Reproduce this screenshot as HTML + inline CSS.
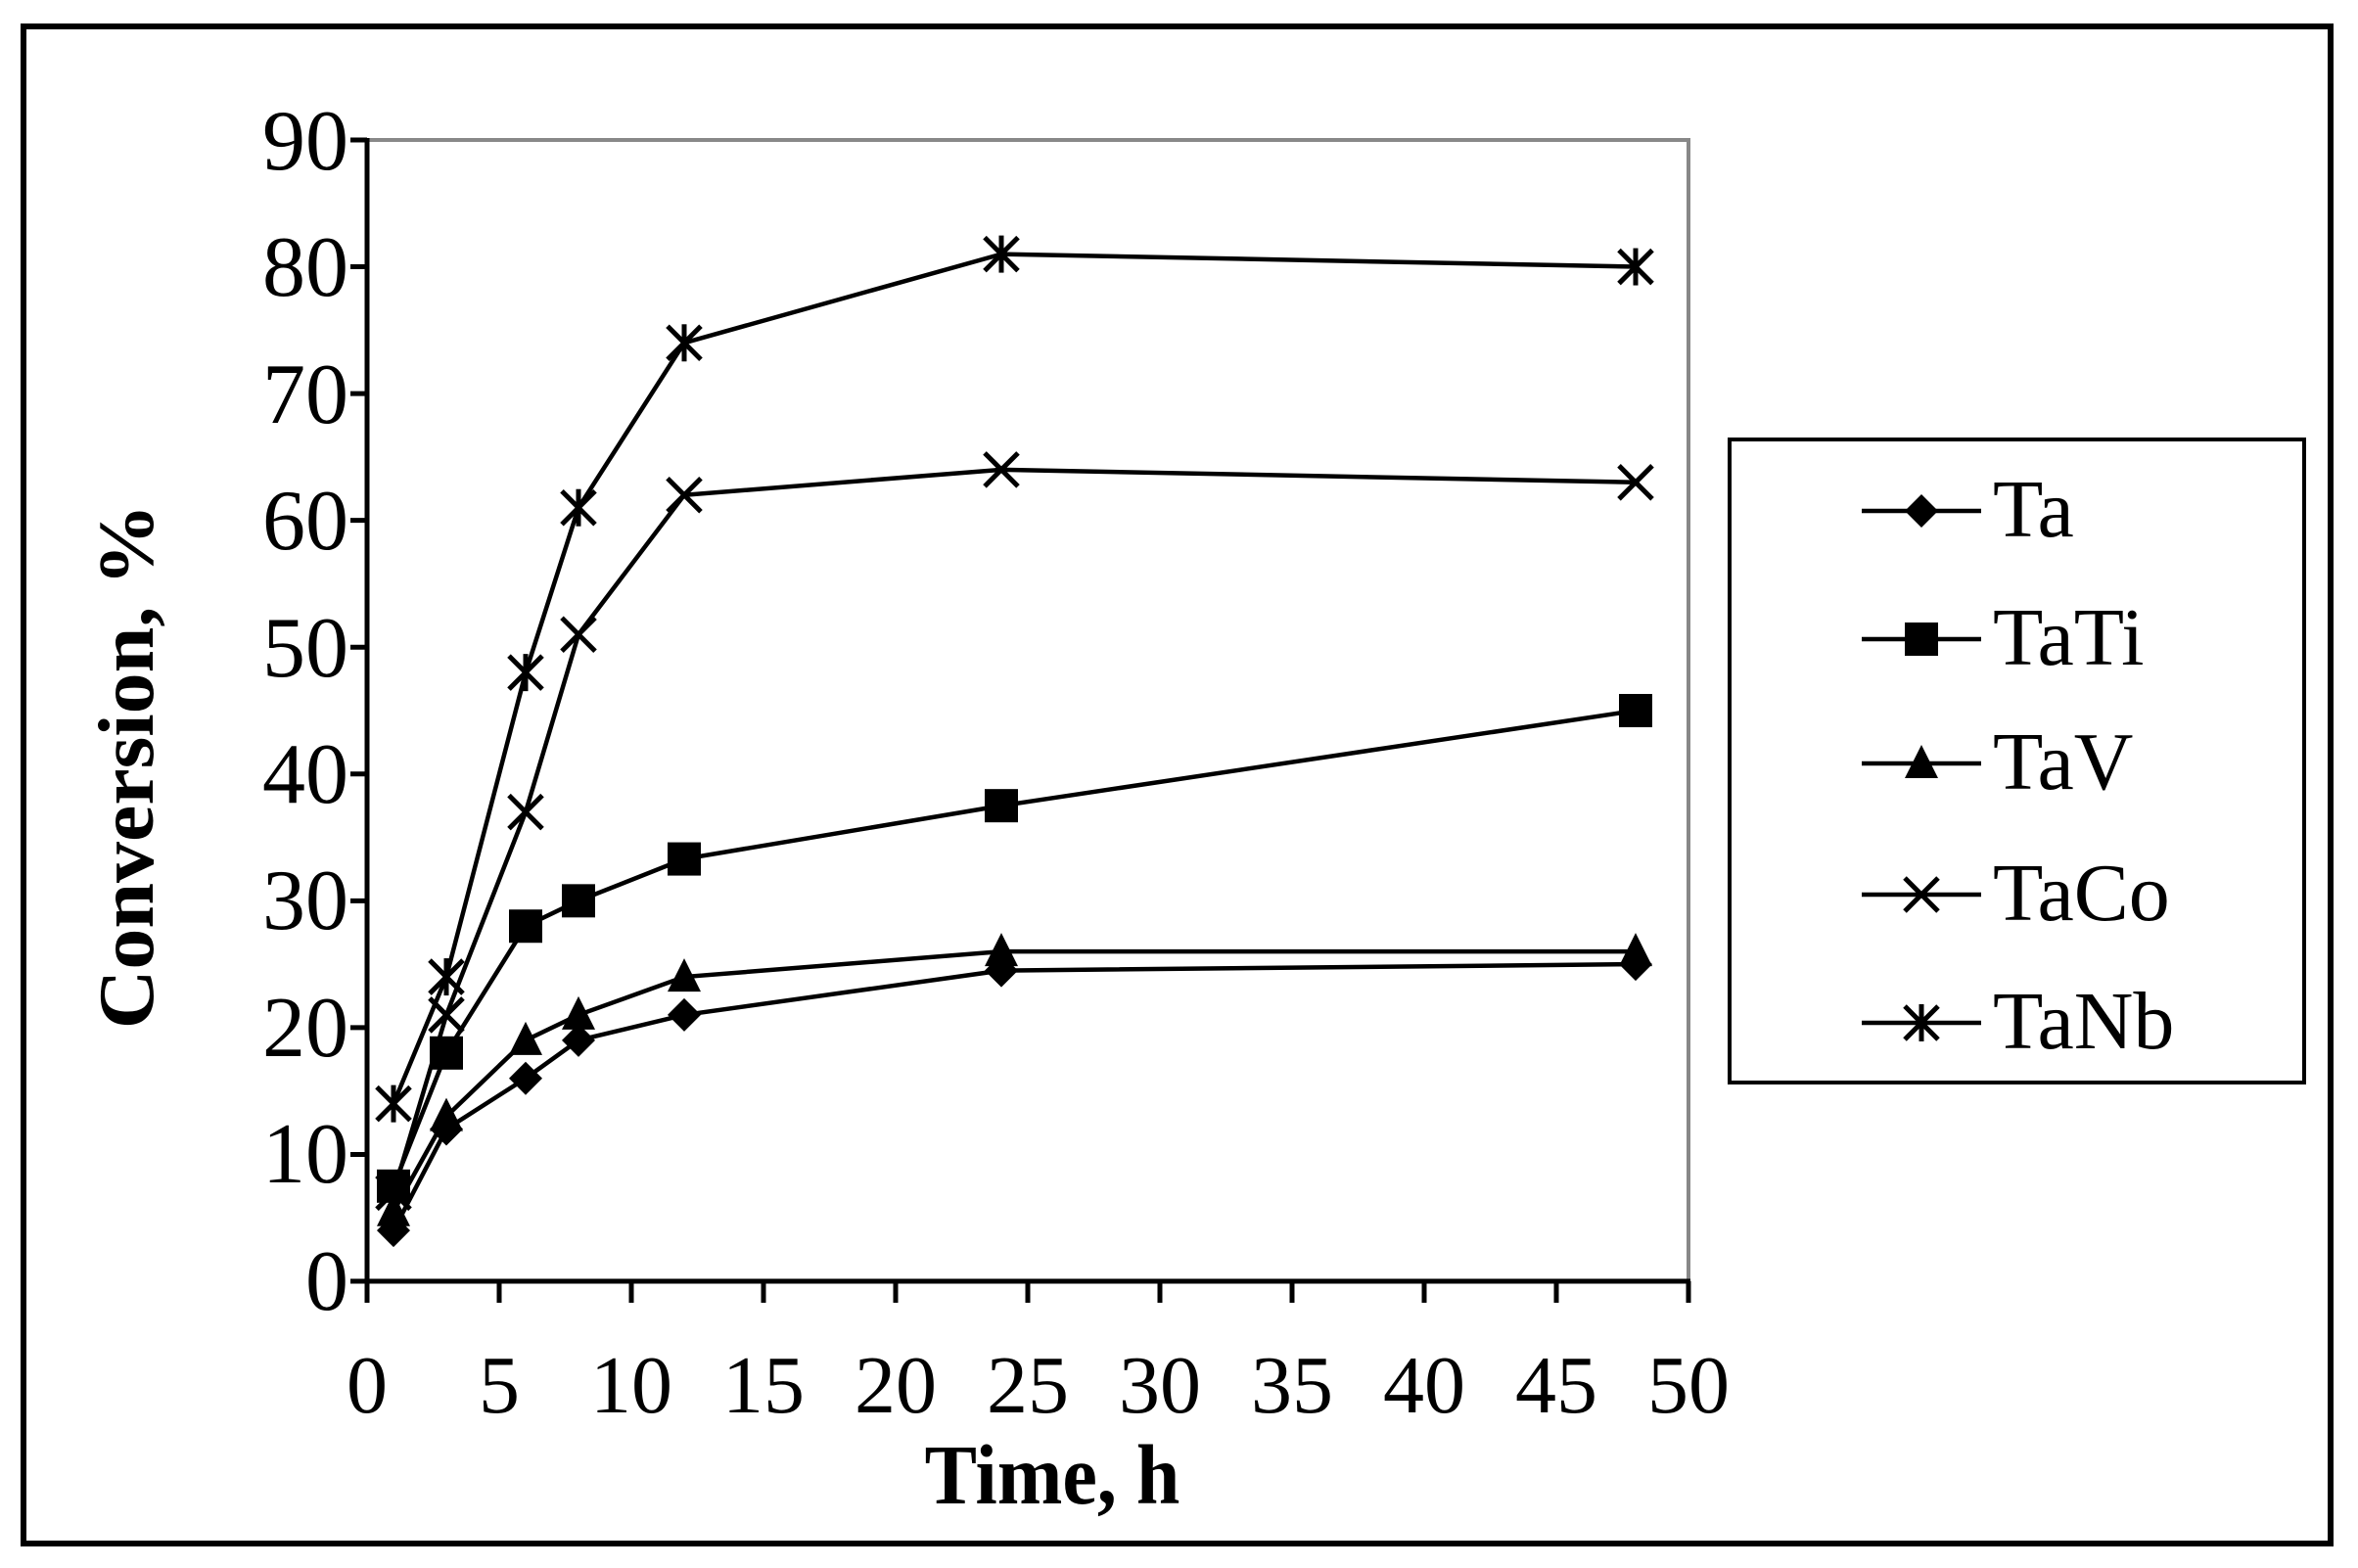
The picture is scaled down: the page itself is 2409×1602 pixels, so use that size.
<!DOCTYPE html>
<html><head><meta charset="utf-8"><style>html,body{margin:0;padding:0;background:#fff}svg{display:block}</style></head>
<body>
<svg id="s" width="2409" height="1602" viewBox="0 0 2409 1602" xmlns="http://www.w3.org/2000/svg" font-family="Liberation Serif, serif">
<rect x="24" y="27" width="2357" height="1550" fill="#fff" stroke="#000" stroke-width="6"/>
<polyline points="375,143 1725,143 1725,1309" fill="none" stroke="#888" stroke-width="4"/>
<line x1="375" y1="141" x2="375" y2="1311" stroke="#000" stroke-width="5"/>
<line x1="358" y1="1309" x2="1727" y2="1309" stroke="#000" stroke-width="5"/>
<g id="ticks" stroke="#000" stroke-width="5"></g>
<g font-size="88" text-anchor="end" fill="#000">
<text x="356" y="173">90</text>
<text x="356" y="302">80</text>
<text x="356" y="432">70</text>
<text x="356" y="561">60</text>
<text x="356" y="691">50</text>
<text x="356" y="820">40</text>
<text x="356" y="949">30</text>
<text x="356" y="1079">20</text>
<text x="356" y="1208">10</text>
<text x="356" y="1338">0</text>
</g>
<g font-size="84" text-anchor="middle" fill="#000">
<text x="375" y="1443">0</text>
<text x="510" y="1443">5</text>
<text x="645" y="1443">10</text>
<text x="780" y="1443">15</text>
<text x="915" y="1443">20</text>
<text x="1050" y="1443">25</text>
<text x="1185" y="1443">30</text>
<text x="1320" y="1443">35</text>
<text x="1455" y="1443">40</text>
<text x="1590" y="1443">45</text>
<text x="1725" y="1443">50</text>
</g>
<text transform="translate(1075,1536) scale(1,1.08)" font-size="80" font-weight="bold" text-anchor="middle">Time, h</text>
<text transform="translate(156,783) rotate(-90) scale(1.05,1)" font-size="80" font-weight="bold" text-anchor="middle">Conversion, %</text>
<g id="series"></g>
<rect x="1767" y="449" width="587" height="657" fill="none" stroke="#000" stroke-width="4"/>
<g id="leg"></g>
<g font-size="84" fill="#000">
<text x="2036" y="548">Ta</text>
<text x="2036" y="679">TaTi</text>
<text x="2036" y="806">TaV</text>
<text x="2036" y="940">TaCo</text>
<text x="2036" y="1071">TaNb</text>
</g>
</svg>
<script>
var NS="http://www.w3.org/2000/svg";
function el(p,t,a){var e=document.createElementNS(NS,t);for(var k in a)e.setAttribute(k,a[k]);p.appendChild(e);return e;}
var sx=function(x){return 375+27*x};
var sy=function(y){return 1309-(1309-143)/90*y};
var T=document.getElementById('ticks');
for(var i=0;i<=9;i++){var y=sy(i*10);el(T,'line',{x1:358,y1:y,x2:375,y2:y});}
for(var i=0;i<=10;i++){var x=sx(i*5);el(T,'line',{x1:x,y1:1309,x2:x,y2:1331});}
function marker(g,type,x,y){
 var r=17;
 if(type=='d')el(g,'polygon',{points:[x,y-r,x+r,y,x,y+r,x-r,y].join(' '),fill:'#000'});
 else if(type=='s')el(g,'rect',{x:x-r,y:y-r,width:2*r,height:2*r,fill:'#000'});
 else if(type=='t')el(g,'polygon',{points:[x,y-r-2,x+r,y+r-2,x-r,y+r-2].join(' '),fill:'#000'});
 else if(type=='x'){el(g,'line',{x1:x-r,y1:y-r,x2:x+r,y2:y+r,stroke:'#000','stroke-width':5});el(g,'line',{x1:x-r,y1:y+r,x2:x+r,y2:y-r,stroke:'#000','stroke-width':5});}
 else if(type=='a'){el(g,'line',{x1:x-r,y1:y-r,x2:x+r,y2:y+r,stroke:'#000','stroke-width':5});el(g,'line',{x1:x-r,y1:y+r,x2:x+r,y2:y-r,stroke:'#000','stroke-width':5});el(g,'line',{x1:x,y1:y-r-2,x2:x,y2:y+r+2,stroke:'#000','stroke-width':5});}
}
var X=[1,3,6,8,12,24,48];
var D=[['d',[4,12,16,19,21,24.5,25]],['s',[7.5,18,28,30,33.3,37.5,45]],['t',[5.5,13,19,21,24,26,26]],['x',[7,21,37,51,62,64,63]],['a',[14,24,48,61,74,81,80]]];
var G=document.getElementById('series');
D.forEach(function(d){
 var pts=X.map(function(x,i){return sx(x)+','+sy(d[1][i])}).join(' ');
 el(G,'polyline',{points:pts,fill:'none',stroke:'#000','stroke-width':4.5});
 X.forEach(function(x,i){marker(G,d[0],sx(x),sy(d[1][i]));});
});
var L=document.getElementById('leg');var ly=[522,653,780,914,1045];
D.forEach(function(d,i){el(L,'line',{x1:1902,y1:ly[i],x2:2024,y2:ly[i],stroke:'#000','stroke-width':4.5});marker(L,d[0],1963,ly[i]);});
</script>
</body></html>
